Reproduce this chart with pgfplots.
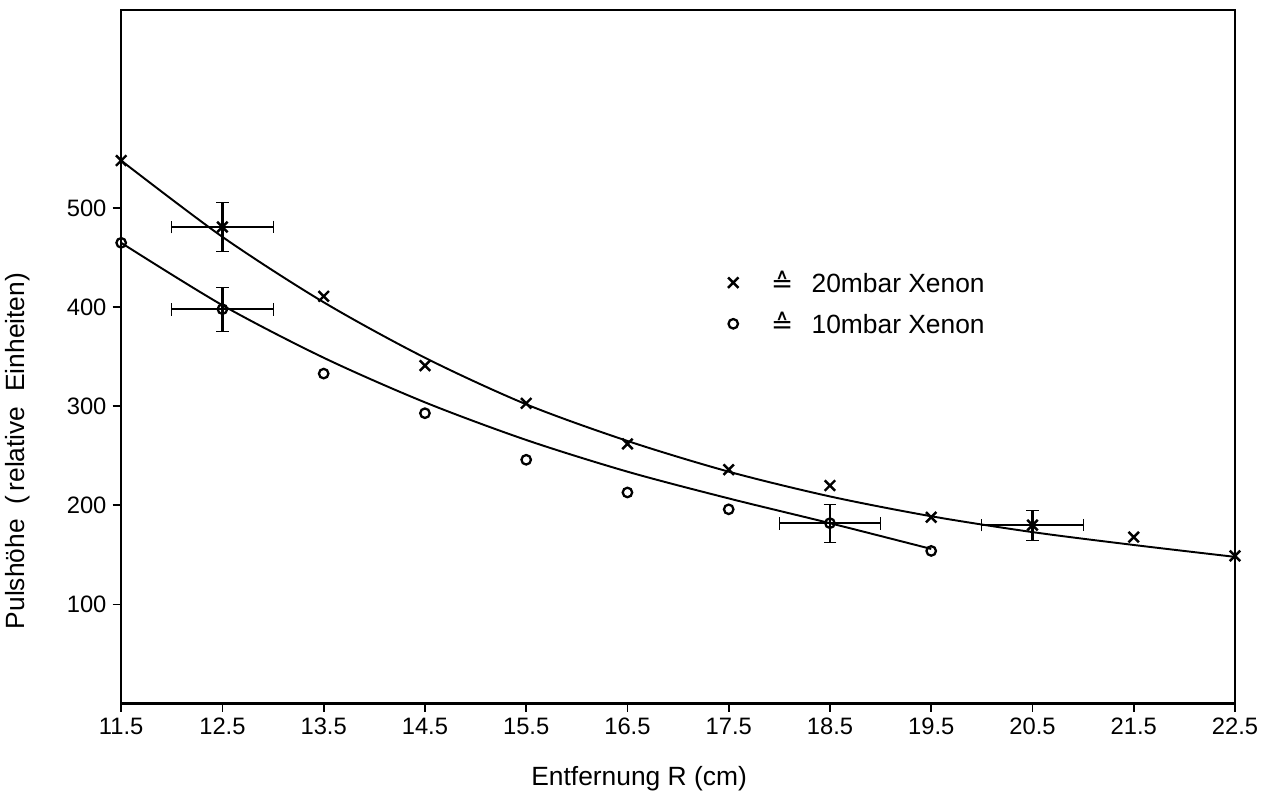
\documentclass[border=0pt]{standalone}
\usepackage{pgfplots}
\usepackage{pgfplotstable}
\pgfplotsset{compat=1.18}
\usepackage{fontspec}
\setmainfont{Liberation Sans}
\newfontfamily\symfont{DejaVu Sans}

% measured points (marks)
\pgfplotstableread{
x y
11.5 548
12.5 481
13.5 411
14.5 341
15.5 303
16.5 262
17.5 236
18.5 220
19.5 188
20.5 180
21.5 168
22.5 149
}\xenonA
\pgfplotstableread{
x y
11.5 465
12.5 398
13.5 333
14.5 293
15.5 246
16.5 213
17.5 196
18.5 182
19.5 154
}\xenonB
% fitted curves
\pgfplotstableread{
x y
11.5 548
12.5 471
13.5 405
14.5 349
15.5 302
16.5 265
17.5 234
18.5 209
19.5 189
20.5 173
21.5 160
22.5 148
}\fitA
\pgfplotstableread{
x y
11.5 465
12.5 402
13.5 349
14.5 304
15.5 266
16.5 234
17.5 207
18.5 182
19.5 156
}\fitB
\pgfplotstableread{
x y ex ey
12.5 481 0.5 25
20.5 180 0.5 15
12.5 398 0.5 22
18.5 182 0.5 19
}\errs

\begin{document}
\begin{tikzpicture}
\begin{axis}[
    scale only axis,
    width=22.26cm,
    height=13.86cm,
    xmin=11.5, xmax=22.5,
    ymin=0, ymax=700,
    xtick={11.5,12.5,...,22.5},
    ytick={100,200,300,400,500},
    xtick pos=left, ytick pos=left,
    tick align=outside,
    major tick length=0.17cm,
    axis line style={line width=1.4pt},
    tick style={line width=1pt, black},
    /pgf/number format/assume math mode=true,
    xticklabel style={/pgf/number format/.cd, fixed, fixed zerofill, precision=1},
    tick label style={font=\fontsize{13.5}{16}\selectfont},
    label style={font=\fontsize{15}{18}\selectfont},
    xlabel={Entfernung R (cm)},
    ylabel={Pulshöhe\ \ (\,relative\ \ Einheiten)},
    xlabel style={at={(axis description cs:0.465,-0.108)}, anchor=center},
    ylabel style={at={(axis description cs:-0.0925,0.364)}, anchor=center},
    legend style={draw=none, fill=none, inner sep=0pt,
        at={(axis cs:17.49,404)}, anchor=west,
        font=\fontsize{15}{18}\selectfont, row sep=0.2cm},
    legend cell align=left,
]
\addplot[black, only marks, mark=x, mark size=4.2pt, line width=1.4pt]
    table[x=x, y=y] {\xenonA};
\addlegendentry{\hspace{0.58cm}{\symfont ≙}\hspace{0.37cm}20mbar Xenon}
\addplot[black, only marks, mark=o, mark size=2.7pt, line width=1.3pt]
    table[x=x, y=y] {\xenonB};
\addlegendentry{\hspace{0.58cm}{\symfont ≙}\hspace{0.37cm}10mbar Xenon}

\addplot[forget plot, black, smooth, line width=1.1pt] table[x=x, y=y] {\fitA};
\addplot[forget plot, black, smooth, line width=1.1pt] table[x=x, y=y] {\fitB};

\addplot[forget plot, draw=none, mark=none, mark size=3.6pt, line width=1.4pt,
    error bars/.cd, x dir=both, x explicit, y dir=both, y explicit,
    error bar style={draw=black, line width=1.4pt}]
    table[x=x, y=y, x error=ex, y error=ey] {\errs};
\end{axis}
% margins as in the original drawing
\path (current axis.south east) ++(0.78cm,0);
\path (current axis.north west) ++(0,0.2cm);
\end{tikzpicture}
\end{document}
